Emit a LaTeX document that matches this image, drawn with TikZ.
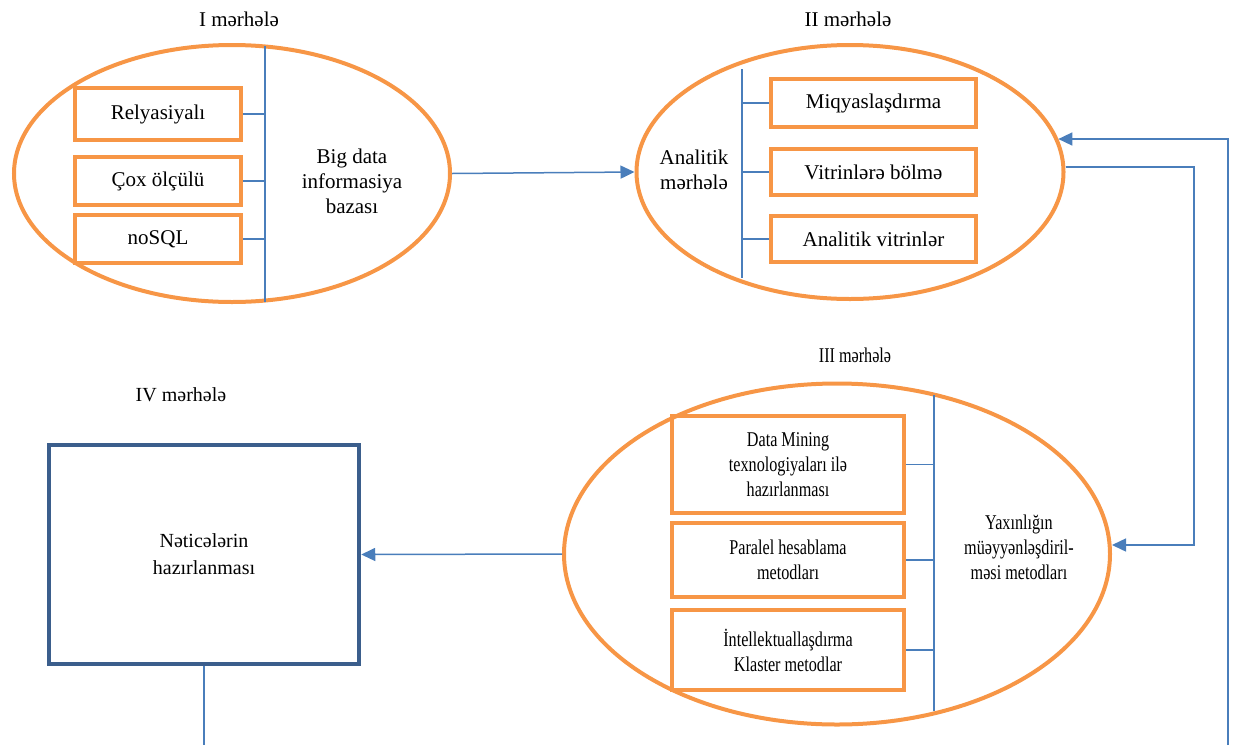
\documentclass[tikz,border=0pt]{standalone}
\usepackage{fontspec}
\setmainfont{Liberation Serif}
\newfontfamily\narrowfont[FakeStretch=0.77]{Liberation Serif}
\usepackage{xcolor}
\usetikzlibrary{arrows.meta,shapes.geometric}
\definecolor{orng}{HTML}{F79646}
\definecolor{lnblue}{HTML}{4A7EBB}
\definecolor{boxblue}{HTML}{3B5E8C}

\begin{document}
\begin{tikzpicture}[x=1pt,y=-1pt,font=\fontsize{21}{25}\selectfont,
  ov/.style={draw=orng,line width=4pt,ellipse,inner sep=0pt},
  ob/.style={draw=orng,line width=4.5pt,align=center,inner sep=0pt},
  ln/.style={draw=lnblue,line width=1.5pt},
  nf/.style={font=\narrowfont\fontsize{21}{25}\selectfont},
  >={Triangle[length=14pt,width=13pt]}]
\useasboundingbox (0,0) rectangle (1235,745);
% stage I
\node at (239,19) (s1) {I mərhələ};
\node[ov,minimum width=436pt,minimum height=257pt] (e1) at (232,173.5) {};
\node[ob,minimum width=166pt,minimum height=52pt] (r1) at (158,114) {Relyasiyalı};
\node[ob,minimum width=166pt,minimum height=48pt] (r2) at (158,181) {Çox ölçülü};
\node[ob,minimum width=166pt,minimum height=48pt] (r3) at (158,239) {noSQL};
\node[align=center] (bd) at (352,181) {Big data\\informasiya\\bazası};
\coordinate (v1a) at (265,46); \coordinate (v1b) at (265,302);
\draw[ln] (v1a)--(v1b);
\foreach \b in {r1,r2,r3} \draw[ln] (\b.east)--(\b.east -| v1a);
% stage II
\node at (848,19) (s2) {II mərhələ};
\node[ov,minimum width=427pt,minimum height=254pt] (e2) at (850,172) {};
\node[ob,minimum width=205pt,minimum height=48pt] (m1) at (873.5,103) {Miqyaslaşdırma};
\node[ob,minimum width=205pt,minimum height=46pt] (m2) at (873.5,172) {Vitrinlərə bölmə};
\node[ob,minimum width=205pt,minimum height=46pt] (m3) at (873.5,239) {Analitik vitrinlər};
\node[align=center] (am) at (694,170) {Analitik\\mərhələ};
\coordinate (v2a) at (742,69); \coordinate (v2b) at (742,278);
\draw[ln] (v2a)--(v2b);
\foreach \b in {m1,m2,m3} \draw[ln] (\b.west -| v2a)--(\b.west);
% stage III
\node[nf] at (855,355) (s3) {III mərhələ};
\node[ov,minimum width=546pt,minimum height=341pt] (e3) at (837,554) {};
\node[ob,nf,minimum width=232pt,minimum height=97pt] (d1) at (788,464.5) {Data Mining\\texnologiyaları ilə\\hazırlanması};
\node[ob,nf,minimum width=232pt,minimum height=74pt] (d2) at (788,560) {Paralel hesablama\\metodları};
\node[ob,nf,minimum width=232pt,minimum height=80pt] (d3) at (788,650) {İntellektuallaşdırma\\Klaster metodlar};
\node[nf,align=center] (ym) at (1019,547) {Yaxınlığın\\müəyyənləşdiril-\\məsi metodları};
\coordinate (v3a) at (934,395); \coordinate (v3b) at (934,711);
\draw[ln] (v3a)--(v3b);
\foreach \b in {d1,d2,d3} \draw[ln] (\b.east)--(\b.east -| v3a);
% stage IV
\node[font=\fontsize{20}{25}\selectfont] at (181,395) (s4) {IV mərhələ};
\node[draw=boxblue,line width=4.5pt,minimum width=310pt,minimum height=219pt,align=center,
  font=\fontsize{20}{27}\selectfont] (iv) at (204,554.5) {Nəticələrin\\hazırlanması};
% connectors
\draw[ln,->] (e1.east)--(e2.west);
\coordinate (c1) at (1194,167); \coordinate (c2) at (1194,545);
\draw[ln,->] (e2.east |- c1)--(c1)--(c2)--(e3.east |- c2);
\draw[ln,->] (e3.west)--(iv.east);
\coordinate (bt) at (204,745);
\draw[ln] (iv.south)--(bt);
\coordinate (c3) at (1228,745);
\draw[ln,->] (c3) |- (e2.9);
\end{tikzpicture}
\end{document}
